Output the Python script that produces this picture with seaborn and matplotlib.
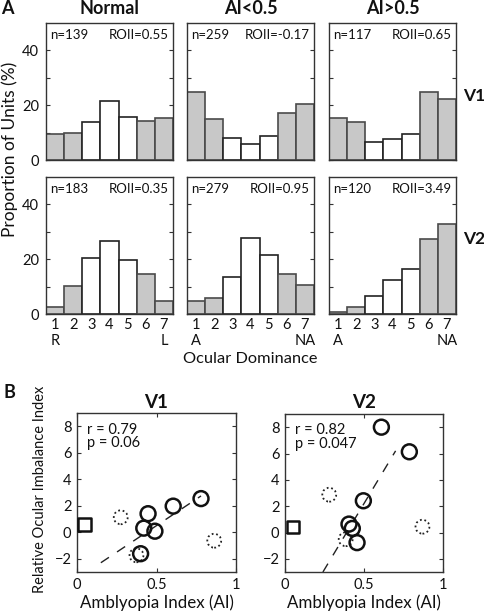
import numpy as np
import pandas as pd
import matplotlib
matplotlib.use("Agg")
import matplotlib.pyplot as plt
import seaborn as sns
from matplotlib.ticker import FixedLocator

sns.set_theme(style="white")
plt.rcParams['font.family'] = ['Lato', 'DejaVu Sans']

# ---------------- data ----------------
od_bins = [1, 2, 3, 4, 5, 6, 7]
groups = ["Normal", "AI<0.5", "AI>0.5"]
areas = ["V1", "V2"]

v1_normal = [9.4, 10.0, 13.7, 21.6, 15.8, 14.3, 15.2]
v1_ai_low = [24.7, 15.0, 8.2, 5.8, 8.9, 17.0, 20.4]
v1_ai_high = [15.4, 13.7, 6.7, 7.7, 9.4, 24.7, 22.3]
v2_normal = [2.7, 10.2, 20.5, 26.7, 19.6, 14.6, 4.8]
v2_ai_low = [4.8, 6.0, 13.4, 27.8, 21.7, 14.5, 10.5]
v2_ai_high = [0.6, 2.6, 6.5, 12.4, 16.6, 27.3, 32.9]

n_units = [[139, 259, 117], [183, 279, 120]]
roii = [["0.55", "-0.17", "0.65"], ["0.35", "0.95", "3.49"]]
shaded = [True, True, False, False, False, True, True]
end_labels = [("R", "L"), ("A", "NA"), ("A", "NA")]

# panel B
v1_ai = [0.42, 0.447, 0.49, 0.605, 0.78, 0.40]
v1_roii = [0.31, 1.4, 0.08, 1.97, 2.54, -1.62]
v1_dot_ai = [0.275, 0.863, 0.374]
v1_dot_roii = [1.13, -0.64, -1.74]
v1_sq_ai = [0.048]
v1_sq_roii = [0.6]
v1_fit_x = [0.15, 0.78]
v1_fit_y = [-2.3, 2.74]
v1_stats = "r = 0.79\np = 0.06"

v2_ai = [0.61, 0.787, 0.496, 0.405, 0.426, 0.456]
v2_roii = [8.0, 6.13, 2.41, 0.64, 0.31, -0.77]
v2_dot_ai = [0.28, 0.87, 0.384]
v2_dot_roii = [2.87, 0.44, -0.51]
v2_sq_ai = [0.05]
v2_sq_roii = [0.41]
v2_fit_x = [0.24, 0.70]
v2_fit_y = [-3.0, 6.2]
v2_stats = "r = 0.82\np = 0.047"

hist_data = [[v1_normal, v1_ai_low, v1_ai_high], [v2_normal, v2_ai_low, v2_ai_high]]

# ---------------- figure ----------------
W, H = 485, 612
fig = plt.figure(figsize=(W / 100, H / 100), dpi=100)

def fx(px):
    return px / W

def fy(py):
    return 1 - py / H

GRAY = "#c8c8c8"
EDGE = "#4a4a4a"
SPINE = "#333333"
TXT = "#111111"

col_left = [46, 187, 329]
col_w = 127
row_top = [23, 177]
row_h = 137

for r in range(2):
    for c in range(3):
        ax = fig.add_axes([fx(col_left[c]), fy(row_top[r] + row_h), fx(col_w), row_h / H])
        df = pd.DataFrame({"od": [str(b) for b in od_bins], "pct": hist_data[r][c]})
        sns.barplot(data=df, x="od", y="pct", ax=ax, width=1.0, color=GRAY,
                    saturation=1, edgecolor=EDGE, linewidth=1.2)
        for p, s in zip(ax.patches, shaded):
            p.set_facecolor(GRAY if s else "white")
            p.set_edgecolor(EDGE if s else "#222222")
        ax.set_xlim(-0.5, 6.5)
        ax.set_ylim(0, 50)
        ax.set_xlabel("")
        ax.set_ylabel("")
        for sp in ax.spines.values():
            sp.set_color(SPINE)
            sp.set_linewidth(1.0)
        ax.yaxis.set_major_locator(FixedLocator([0, 20, 40]))
        ax.yaxis.set_minor_locator(FixedLocator([10, 30]))
        ax.tick_params(axis="y", which="both", direction="in", left=True, right=True,
                       length=3, width=0.8, color=SPINE, labelsize=10.5, pad=5,
                       labelcolor=TXT)
        if c > 0:
            ax.tick_params(axis="y", labelleft=False)
        ax.set_xticks(range(7))
        if r == 1:
            lo, hi = end_labels[c]
            labs = []
            for i, b in enumerate(od_bins):
                extra = lo if i == 0 else (hi if i == 6 else " ")
                labs.append(f"{b}\n{extra}")
            ax.set_xticklabels(labs, fontsize=10.5, color=TXT, linespacing=1.15)
        else:
            ax.set_xticklabels([])
        ax.tick_params(axis="x", which="major", length=0, pad=3)
        ax.xaxis.set_minor_locator(FixedLocator([3]))
        ax.tick_params(axis="x", which="minor", direction="in", bottom=True, top=True,
                       length=3, width=0.8, color=SPINE)
        ax.text(0.03, 0.912, f"n={n_units[r][c]}", transform=ax.transAxes,
                fontsize=9.5, ha="left", va="center", color=TXT)
        ax.text(0.965, 0.912, f"ROII={roii[r][c]}", transform=ax.transAxes,
                fontsize=9.5, ha="right", va="center", color=TXT)

# column titles and row labels
for c, g in enumerate(groups):
    fig.text(fx(col_left[c] + col_w / 2), fy(8), g, ha="center", va="center",
             fontsize=13, fontweight="bold", color=TXT)
fig.text(fx(474), fy(96), "V1", ha="center", va="center", fontsize=12.5,
         fontweight="bold", color=TXT)
fig.text(fx(474), fy(239), "V2", ha="center", va="center", fontsize=12.5,
         fontweight="bold", color=TXT)
fig.text(fx(10), fy(149), "Proportion of Units (%)", rotation=90, ha="center",
         va="center", fontsize=12.5, color=TXT)
fig.text(fx(250), fy(359), "Ocular Dominance", ha="center", va="center",
         fontsize=11.8, color=TXT)
fig.text(fx(7), fy(9), "A", ha="center", va="center", fontsize=13,
         fontweight="bold", color=TXT)
fig.text(fx(9), fy(393), "B", ha="center", va="center", fontsize=13,
         fontweight="bold", color=TXT)

# ---------------- panel B ----------------
b_axes = [
    (77, 413, 159, 159, v1_ai, v1_roii, v1_dot_ai, v1_dot_roii, v1_sq_ai, v1_sq_roii,
     v1_fit_x, v1_fit_y, v1_stats, "V1"),
    (285, 414, 158, 158, v2_ai, v2_roii, v2_dot_ai, v2_dot_roii, v2_sq_ai, v2_sq_roii,
     v2_fit_x, v2_fit_y, v2_stats, "V2"),
]
for i, (lx, ty, w, h, ax_, ay_, dx_, dy_, sx_, sy_, fx_, fy_, st, name) in enumerate(b_axes):
    ax = fig.add_axes([fx(lx), fy(ty + h), fx(w), h / H])
    ax.plot(fx_, fy_, color="#222222", lw=1.0, dashes=(7, 7))
    sns.scatterplot(x=dx_, y=dy_, ax=ax, marker="o", s=100, facecolors="none",
                    edgecolor="#222222", linewidth=1.3, linestyle=(0, (1, 1.5)), zorder=3)
    sns.scatterplot(x=ax_, y=ay_, ax=ax, marker="o", s=115, facecolors="none",
                    edgecolor=TXT, linewidth=1.8, zorder=4)
    sns.scatterplot(x=sx_, y=sy_, ax=ax, marker="s", s=80, facecolors="none",
                    edgecolor=TXT, linewidth=1.8, zorder=4)
    ax.set_xlim(0, 1)
    ax.set_ylim(-3, 9)
    ax.set_xticks([0, 0.5, 1])
    ax.set_xticklabels(["0", "0.5", "1"])
    ax.set_yticks([-2, 0, 2, 4, 6, 8])
    ax.tick_params(direction="in", length=3, width=0.8, top=True, right=True,
                   bottom=True, left=True, labelsize=10.5, color=SPINE,
                   labelcolor=TXT, pad=4)
    for sp in ax.spines.values():
        sp.set_color(SPINE)
        sp.set_linewidth(1.0)
    ax.set_xlabel("")
    ax.set_ylabel("")
    fig.text(fx(lx + w / 2), fy(603), "Amblyopia Index (AI)", ha="center", va="center",
             fontsize=12.2, color=TXT)
    if i == 0:
        fig.text(fx(40), fy(489), "Relative Ocular Imbalance Index", rotation=90,
                 ha="center", va="center", fontsize=10.5, color=TXT)
    fig.text(fx(lx + w / 2), fy(403), name, ha="center", va="center",
             fontsize=13.5, fontweight="bold", color=TXT)
    ax.text(0.065, 0.94, st, transform=ax.transAxes, ha="left", va="top",
            fontsize=10.5, color=TXT, linespacing=0.95)

fig.savefig("out.png", dpi=100)
